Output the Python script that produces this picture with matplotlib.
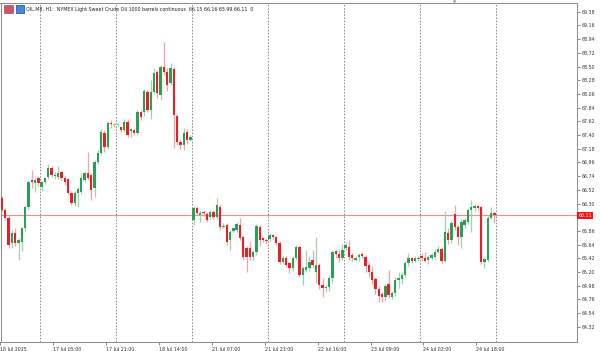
import matplotlib
matplotlib.use("Agg")
import matplotlib.pyplot as plt
from matplotlib.patches import Rectangle

# H1 candles, 16 Jul 12:00 .. 24 Jul 23:00 (bar index = position on the chart)
opens = [66.39, 66.20, 66.07, 65.66, 65.82, 65.66, 65.68, 65.91, 66.24, 66.68,
         66.63, 66.71, 66.56, 66.64, 66.72, 66.87, 66.74, 66.73, 66.80, 66.71,
         66.69, 66.47, 66.31, 66.47, 66.49, 66.68, 66.79, 66.76, 66.55, 66.97,
         67.11, 67.43, 67.21, 67.60, 67.56, 67.56, 67.53, 67.48, 67.61, 67.47,
         67.48, 67.43, 67.77, 67.77, 68.09, 67.80, 68.09, 68.41, 68.04, 68.49,
         68.41, 68.23, 68.46, 67.70, 67.29, 67.24, 67.45, 67.32, 66.03, 66.23,
         66.12, 66.15, 66.13, 66.08, 66.16, 66.08, 66.25, 65.92, 65.95, 65.71,
         65.86, 65.87, 65.95, 65.76, 65.59, 65.59, 65.44, 65.52, 65.92, 65.74,
         65.72, 65.73, 65.79, 65.76, 65.67, 65.36, 65.42, 65.34, 65.26, 65.42,
         65.60, 65.15, 65.23, 65.26, 65.39, 65.20, 65.31, 64.99, 64.94, 64.96,
         65.10, 65.53, 65.49, 65.42, 65.58, 65.60, 65.47, 65.40, 65.44, 65.49,
         65.44, 65.31, 65.20, 65.09, 64.93, 64.85, 64.80, 65.00, 64.80, 64.86,
         65.07, 65.08, 65.15, 65.34, 65.42, 65.38, 65.41, 65.45, 65.42, 65.39,
         65.42, 65.44, 65.52, 65.57, 65.38, 65.82, 65.71, 66.13, 65.92, 65.76,
         65.96, 66.00, 66.20, 66.23, 66.26, 66.24, 65.36, 65.39, 66.07, 66.15]
highs = [66.42, 66.22, 66.10, 65.87, 65.91, 65.74, 65.93, 66.26, 66.68, 66.84,
         66.72, 66.74, 66.66, 66.73, 66.94, 66.90, 66.80, 66.91, 66.83, 66.74,
         66.71, 66.50, 66.50, 66.56, 66.79, 66.82, 67.13, 66.79, 67.00, 67.16,
         67.50, 67.48, 67.63, 67.64, 67.59, 67.58, 67.55, 67.65, 67.66, 67.52,
         67.50, 67.80, 67.80, 68.14, 68.12, 68.28, 68.47, 68.44, 68.53, 68.89,
         68.47, 68.56, 68.50, 67.73, 67.34, 67.52, 67.50, 67.40, 66.26, 66.26,
         66.18, 66.20, 66.16, 66.19, 66.19, 66.39, 66.30, 65.98, 65.98, 65.87,
         65.93, 66.00, 66.07, 65.78, 65.62, 65.70, 65.55, 65.97, 65.95, 65.76,
         65.74, 65.82, 65.81, 65.78, 65.70, 65.46, 65.45, 65.36, 65.45, 65.63,
         65.62, 65.30, 65.55, 65.45, 65.55, 65.76, 65.34, 65.10, 64.99, 65.13,
         65.55, 65.55, 65.55, 65.65, 65.68, 65.71, 65.50, 65.46, 65.50, 65.52,
         65.47, 65.36, 65.30, 65.12, 64.98, 64.88, 65.00, 65.23, 64.90, 65.12,
         65.20, 65.20, 65.38, 65.50, 65.44, 65.46, 65.45, 65.50, 65.52, 65.47,
         65.50, 65.57, 65.62, 65.60, 66.18, 65.90, 66.02, 66.28, 65.95, 66.05,
         66.07, 66.23, 66.36, 66.30, 66.28, 66.26, 65.44, 66.12, 66.24, 66.16]
lows = [66.18, 66.03, 65.58, 65.58, 65.61, 65.39, 65.53, 65.86, 66.20, 66.55,
        66.48, 66.58, 66.50, 66.61, 66.69, 66.72, 66.70, 66.70, 66.67, 66.60,
        66.45, 66.27, 66.26, 66.24, 66.46, 66.65, 66.68, 66.36, 66.40, 66.93,
        67.08, 67.12, 67.18, 67.52, 67.53, 67.54, 67.45, 67.45, 67.37, 67.37,
        67.40, 67.40, 67.64, 67.70, 67.77, 67.66, 68.06, 67.99, 67.96, 68.36,
        68.10, 68.20, 67.19, 67.24, 67.18, 67.16, 67.25, 67.30, 65.95, 66.12,
        66.00, 66.10, 66.01, 66.05, 66.05, 66.05, 65.87, 65.90, 65.63, 65.55,
        65.84, 65.85, 65.72, 65.40, 65.20, 65.40, 65.40, 65.48, 65.62, 65.68,
        65.67, 65.70, 65.73, 65.64, 65.33, 65.33, 65.28, 65.18, 65.22, 65.40,
        65.12, 64.99, 65.20, 65.22, 65.28, 65.02, 64.92, 64.80, 64.88, 64.90,
        65.02, 65.42, 65.36, 65.40, 65.55, 65.40, 65.38, 65.37, 65.38, 65.42,
        65.20, 65.12, 65.00, 64.85, 64.72, 64.72, 64.73, 64.78, 64.76, 64.82,
        64.95, 65.00, 65.12, 65.30, 65.34, 65.36, 65.38, 65.40, 65.36, 65.33,
        65.40, 65.41, 65.50, 65.35, 65.36, 65.65, 65.66, 65.88, 65.63, 65.58,
        65.90, 65.97, 65.85, 66.18, 66.20, 65.33, 65.26, 65.36, 66.05, 65.99]
closes = [66.20, 66.07, 65.63, 65.82, 65.66, 65.71, 65.91, 66.24, 66.64, 66.64,
          66.68, 66.63, 66.64, 66.71, 66.87, 66.76, 66.76, 66.79, 66.71, 66.64,
          66.47, 66.31, 66.47, 66.53, 66.71, 66.79, 66.71, 66.52, 66.97, 67.11,
          67.45, 67.21, 67.59, 67.57, 67.56, 67.56, 67.48, 67.61, 67.40, 67.50,
          67.43, 67.77, 67.69, 68.11, 67.80, 68.09, 68.40, 68.07, 68.49, 68.41,
          68.20, 68.47, 67.72, 67.29, 67.24, 67.43, 67.32, 67.37, 66.23, 66.15,
          66.15, 66.14, 66.04, 66.16, 66.08, 66.28, 65.92, 65.94, 65.68, 65.84,
          65.91, 65.97, 65.75, 65.44, 65.44, 65.44, 65.52, 65.94, 65.71, 65.71,
          65.70, 65.79, 65.76, 65.67, 65.36, 65.42, 65.31, 65.26, 65.42, 65.60,
          65.15, 65.26, 65.28, 65.36, 65.31, 65.31, 64.99, 64.94, 64.96, 65.10,
          65.52, 65.49, 65.42, 65.55, 65.63, 65.44, 65.42, 65.43, 65.47, 65.45,
          65.30, 65.20, 65.07, 64.93, 64.81, 64.80, 64.97, 64.83, 64.86, 65.07,
          65.10, 65.15, 65.34, 65.42, 65.37, 65.42, 65.42, 65.42, 65.38, 65.44,
          65.47, 65.52, 65.57, 65.38, 65.84, 65.71, 65.98, 65.92, 65.76, 66.00,
          66.04, 66.20, 66.25, 66.26, 66.23, 65.36, 65.41, 66.07, 66.14, 66.11]

tick_bars = [0, 16, 32, 48, 64, 80, 96, 112, 128, 144]
tick_labels = ["16 Jul 2025", "17 Jul 05:00", "17 Jul 21:00", "18 Jul 14:00",
               "21 Jul 07:00", "21 Jul 23:00", "22 Jul 16:00", "23 Jul 09:00",
               "24 Jul 02:00", "24 Jul 18:00"]
day_start_bars = [12, 35, 58, 81, 104, 127, 150]
price_ticks = [69.38, 69.16, 68.94, 68.72, 68.50, 68.28, 68.06, 67.84, 67.62,
               67.40, 67.18, 66.96, 66.74, 66.52, 66.30, 65.86, 65.64, 65.42,
               65.20, 64.98, 64.76, 64.54, 64.32]
last_price = 66.11
header = ("OIL.M8, H1:  NYMEX Light Sweet Crude Oil 1000 barrels continuous  "
          "66.15 66.16 65.99 66.11  0")

UP, DOWN, DOJI = "#2b9f55", "#ee1c25", "#7ee07e"
UP_WICK, DOWN_WICK = "#9ed3ad", "#f2a3a8"
FS = 3.4
W, H = 600, 351

plt.rcParams["font.family"] = ["DejaVu Sans"]
fig = plt.figure(figsize=(W / 100, H / 100), dpi=100)
fig.patch.set_facecolor("white")
ax = fig.add_axes([0.5 / W, 9 / H, 576.5 / W, 339 / H])

xs = list(range(len(opens)))
body_c, wick_c, bottoms, heights = [], [], [], []
for o, c in zip(opens, closes):
    if c > o:
        body_c.append(UP); wick_c.append(UP_WICK)
    elif c < o:
        body_c.append(DOWN); wick_c.append(DOWN_WICK)
    else:
        body_c.append(DOJI); wick_c.append(DOJI)
    bottoms.append(min(o, c))
    heights.append(max(abs(c - o), 0.02))

ax.vlines(xs, lows, highs, colors=wick_c, linewidth=0.9, zorder=2)
ax.bar(xs, heights, bottom=bottoms, width=0.72, color=body_c, linewidth=0, zorder=3)

for b in day_start_bars:
    ax.axvline(b - 0.5, color="#8a8a8a", linewidth=0.7,
               linestyle=(0, (1.6, 1.6)), zorder=1)
ax.axhline(last_price, color="#f08c8c", linewidth=0.8, zorder=1)

ax.set_xlim(-0.45, 174.0)
ax.set_ylim(64.076, 69.52)

ax.yaxis.tick_right()
ax.set_yticks(price_ticks)
ax.set_yticklabels(["%.2f" % p for p in price_ticks])
ax.tick_params(axis="y", length=2.5, width=0.5, color="#555555", pad=1,
               labelsize=FS, labelcolor="#333333")
ax.set_xticks([b - 0.45 for b in tick_bars])
ax.set_xticklabels(tick_labels)
ax.tick_params(axis="x", length=2.5, width=0.5, color="#555555", pad=1,
               labelsize=FS, labelcolor="#333333")
for lab in ax.get_xticklabels():
    lab.set_horizontalalignment("left")

for sp in ax.spines.values():
    sp.set_color("#8a8a8a")
    sp.set_linewidth(0.7)

# current price tag on the price scale
ax.text(1.002, last_price, "%.2f" % last_price, transform=ax.get_yaxis_transform(),
        ha="left", va="center", fontsize=FS, color="white",
        bbox=dict(boxstyle="square,pad=0.25", fc="#ff1010", ec="none"))

# header: toolbar icons + symbol description
fig.patches.append(Rectangle((4 / W, (H - 13) / H), 9 / W, 8 / H, transform=fig.transFigure,
                             fc="#e05050", ec="#5577cc", lw=0.6))
fig.patches.append(Rectangle((16 / W, (H - 13) / H), 8 / W, 8 / H, transform=fig.transFigure,
                             fc="#4a86d8", ec="#2a5aa8", lw=0.6))
fig.text(26 / W, (H - 9) / H, header, fontsize=FS, color="#222222", va="center", ha="left")

# chart shift marker
fig.text(455 / W, (H - 2) / H, "\u25bc", fontsize=3, color="#888888", ha="center", va="center")

fig.savefig("out.png", dpi=100)
